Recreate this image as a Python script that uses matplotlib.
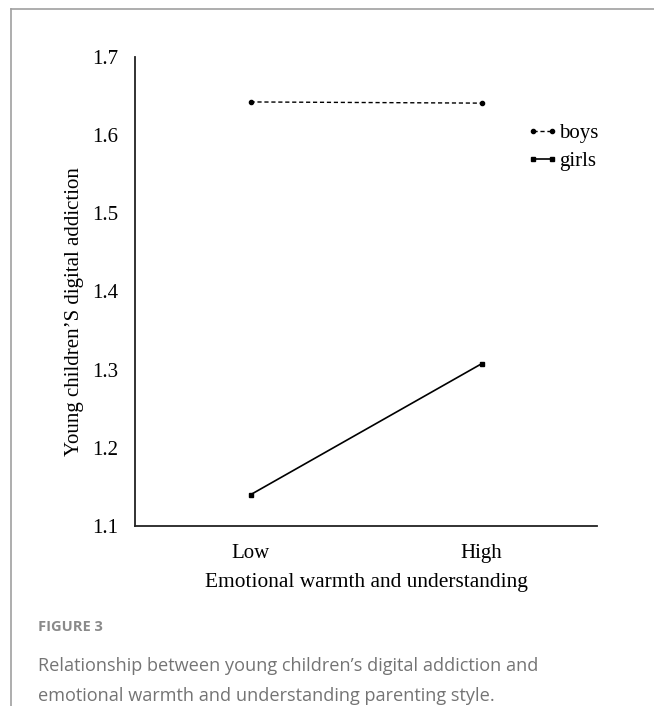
import matplotlib.pyplot as plt
from matplotlib.lines import Line2D

# data
categories = ['Low', 'High']
boys = [1.6425, 1.641]
girls = [1.140, 1.3075]
yticks = [1.1, 1.2, 1.3, 1.4, 1.5, 1.6, 1.7]

W, H = 654, 706
fig = plt.figure(figsize=(W / 100, H / 100), dpi=100)

# outer panel frame (top and left gray rules)
fig.add_artist(Line2D([11 / W, 1], [1 - 9 / H, 1 - 9 / H], color='#a0a0a0', lw=1.2))
fig.add_artist(Line2D([11 / W, 11 / W], [0, 1 - 9 / H], color='#a0a0a0', lw=1.2))

ax = fig.add_axes([135 / W, 1 - 526 / H, (597 - 135) / W, (526 - 57) / H])
serif = 'Liberation Serif'

x = list(range(len(categories)))
ax.plot(x, boys, color='black', lw=1.0, ls=(0, (3, 2)), marker='o', ms=3, label='boys')
ax.plot(x, girls, color='black', lw=1.2, marker='s', ms=3, label='girls')

ax.set_xlim(-0.5, 1.5)
ax.set_ylim(1.1, 1.7)
ax.set_yticks(yticks)
ax.set_yticklabels([f'{v:.1f}' for v in yticks], family=serif, fontsize=15)
ax.set_xticks(x)
ax.set_xticklabels(categories, family=serif, fontsize=15)
ax.tick_params(axis='y', length=0, pad=12)
ax.tick_params(axis='x', length=0, pad=13)

for s in ['top', 'right']:
    ax.spines[s].set_visible(False)
for s in ['left', 'bottom']:
    ax.spines[s].set_color('#222222')
    ax.spines[s].set_linewidth(1.3)

ax.set_xlabel('Emotional warmth and understanding', family=serif, fontsize=15.4, labelpad=7)
ax.set_ylabel('Young children\u2019S digital addiction', family=serif, fontsize=15,
              va='center')
ax.yaxis.set_label_coords((75 - 135) / 462, 1 - (312 - 57) / 469)

leg = ax.legend(loc='upper left', bbox_to_anchor=(508 / W, 1 - 105 / H),
                bbox_transform=fig.transFigure, frameon=False, numpoints=2,
                handlelength=1.5, handletextpad=0.05, labelspacing=0.38,
                prop={'family': serif, 'size': 15})

fig.text(38 / W, 1 - 627 / H, 'FIGURE 3', family='Open Sans', fontweight='bold',
         fontsize=10.5, color='#8a8a8a', va='center')
fig.text(38 / W, 1 - 681 / H,
         'Relationship between young children\u2019s digital addiction and\n'
         'emotional warmth and understanding parenting style.',
         family='Open Sans', fontsize=13.1, color='#747474', va='center', linespacing=1.85)

fig.savefig('out.png', dpi=100)
